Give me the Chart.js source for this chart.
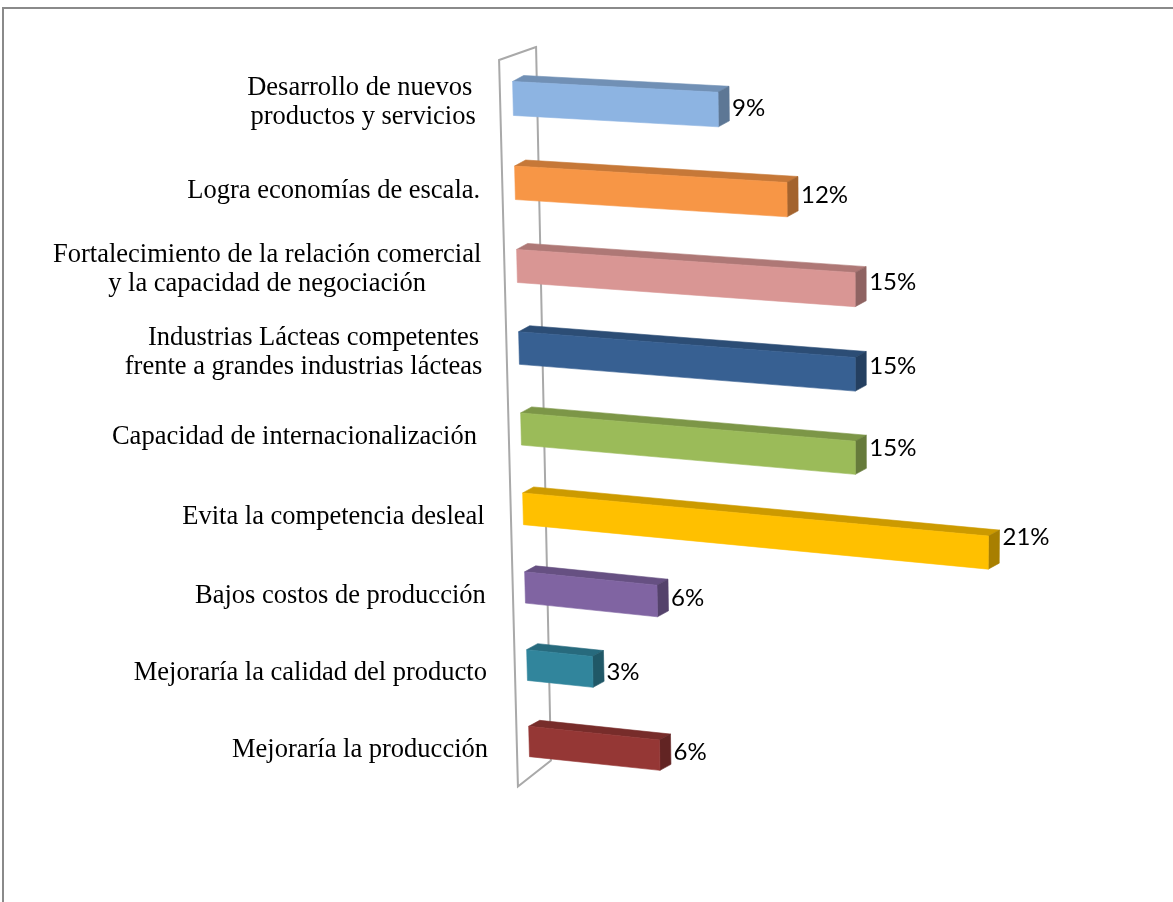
<!DOCTYPE html>
<html>
<head>
<meta charset="utf-8">
<script src="https://cdn.jsdelivr.net/npm/chart.js@4.4.0/dist/chart.umd.min.js"></script>
<style>
html,body{margin:0;padding:0;background:#fff;overflow:hidden;}
#wrap{position:relative;width:1173px;height:902px;overflow:hidden;}
#frame{position:absolute;left:2px;top:7px;width:1300px;height:1000px;border:2px solid #8a8a8a;box-sizing:border-box;pointer-events:none;}
canvas{position:absolute;left:0;top:0;}
</style>
</head>
<body>
<div id="wrap"><canvas id="c" width="1173" height="902"></canvas><div id="frame"></div></div>
<script>
// ---- data ----
const categories = [
  ["Desarrollo de nuevos ", "productos y servicios"],
  ["Logra economías de escala."],
  ["Fortalecimiento de la relación comercial", "y la capacidad de negociación"],
  ["   Industrias Lácteas competentes", "frente a grandes industrias lácteas"],
  ["Capacidad de internacionalización "],
  ["Evita la competencia desleal"],
  ["Bajos costos de producción"],
  ["Mejoraría la calidad del producto"],
  ["Mejoraría la producción"]
];
const values = [9, 12, 15, 15, 15, 21, 6, 3, 6];
const valueLabels = ["9%", "12%", "15%", "15%", "15%", "21%", "6%", "3%", "6%"];
const barColors = ["#8DB4E2", "#F79646", "#D99694", "#376092", "#9BBB59", "#FFC000", "#8064A2", "#31859C", "#953735"];

function shade(hex, f) {
  const n = parseInt(hex.slice(1), 16);
  const r = Math.round(((n >> 16) & 255) * f), g = Math.round(((n >> 8) & 255) * f), b = Math.round((n & 255) * f);
  return `rgb(${r},${g},${b})`;
}

const persp = {
  id: 'persp',
  geom(chart) {
    const meta = chart.getDatasetMeta(0);
    const base = chart.scales.x.getPixelForValue(0);
    const y0 = meta.data[0].y, yN = meta.data[meta.data.length - 1].y;
    const warp = y => { const t = (y - y0) / (yN - y0); return 36 * t * (1 - t); };
    const slope = y => Math.min(0.105, 0.054 + 0.0001 * (y - y0));
    const P = (x, y) => {
      const f = 1 - 0.00007 * (y - y0);
      const dx = (x - base) * f;
      return { X: base + dx + 0.025 * (y - y0), Y: y + warp(y) + slope(y) * dx };
    };
    return { meta, base, y0, yN, P };
  },
  beforeDatasetsDraw(chart) {
    const { base, P } = this.geom(chart);
    const a = chart.chartArea, ctx = chart.ctx;
    const t = P(base - 13, a.top + 4.5), b = P(base - 13, a.bottom + 9);
    const tb = { X: t.X + 37, Y: t.Y - 13 }, bb = { X: b.X + 33, Y: b.Y - 26 };
    ctx.save();
    ctx.strokeStyle = '#a9a9a9';
    ctx.lineWidth = 2;
    ctx.beginPath();
    ctx.moveTo(tb.X, tb.Y); ctx.lineTo(t.X, t.Y); ctx.lineTo(b.X, b.Y); ctx.lineTo(bb.X, bb.Y); ctx.closePath();
    ctx.stroke();
    ctx.restore();
  },
  afterDatasetsDraw(chart) {
    const { meta, base, y0, P } = this.geom(chart);
    const ctx = chart.ctx;
    const d = { x: 11, y: -6 };
    ctx.save();
    meta.data.forEach((el, i) => {
      const yc = el.y, h = el.height, xL = el.base, xR = el.x;
      const A = P(xL, yc - h / 2), B = P(xR, yc - h / 2), C = P(xR, yc + h / 2), D = P(xL, yc + h / 2);
      const col = barColors[i];
      const poly = (pts, fill) => {
        ctx.beginPath();
        ctx.moveTo(pts[0].X, pts[0].Y);
        for (let k = 1; k < pts.length; k++) ctx.lineTo(pts[k].X, pts[k].Y);
        ctx.closePath();
        ctx.fillStyle = fill; ctx.fill();
        ctx.strokeStyle = fill; ctx.lineWidth = 0.6; ctx.stroke();
      };
      const sh = p => ({ X: p.X + d.x, Y: p.Y + d.y });
      poly([A, B, sh(B), sh(A)], shade(col, 0.8));
      poly([B, sh(B), sh(C), C], shade(col, 0.66));
      poly([A, B, C, D], col);

      // value label
      const l = P(xL, yc), r = P(xR, yc);
      ctx.fillStyle = '#000';
      ctx.font = '24px Lato';
      ctx.textAlign = 'left';
      ctx.textBaseline = 'middle';
      ctx.fillText(valueLabels[i], B.X + d.x + 3, l.Y + 0.58 * (r.Y - l.Y) + 3);

      // category label
      const lines = categories[i];
      ctx.font = '26.5px "Liberation Serif"';
      ctx.textAlign = 'center';
      ctx.textBaseline = 'alphabetic';
      const pc = P(base, yc);
      const R = pc.X - 34 - 0.011 * (yc - y0);
      const maxW = Math.max(...lines.map(s => ctx.measureText(s).width));
      const cx = R - maxW / 2;
      const n = lines.length, lh = 29;
      const mean = pc.Y + 15 - 4 * (n - 1);
      lines.forEach((s, k) => ctx.fillText(s, cx, mean + lh * (k - (n - 1) / 2)));
    });
    ctx.restore();
  }
};

function draw() {
  new Chart(document.getElementById('c'), {
    type: 'bar',
    data: {
      labels: categories,
      datasets: [{
        data: values,
        backgroundColor: 'rgba(0,0,0,0)',
        borderWidth: 0,
        barPercentage: 0.4,
        categoryPercentage: 1
      }]
    },
    options: {
      indexAxis: 'y',
      responsive: false,
      animation: false,
      devicePixelRatio: 1,
      layout: { padding: { left: 513, right: 90, top: 58.3, bottom: 120.3 } },
      scales: {
        x: { min: 0, max: 25, display: false },
        y: { display: false }
      },
      plugins: { legend: { display: false }, tooltip: { enabled: false } }
    },
    plugins: [persp]
  });
}
Promise.all([
  document.fonts.load('26px "Liberation Serif"'),
  document.fonts.load('24px Lato')
]).then(draw, draw);
</script>
</body>
</html>
